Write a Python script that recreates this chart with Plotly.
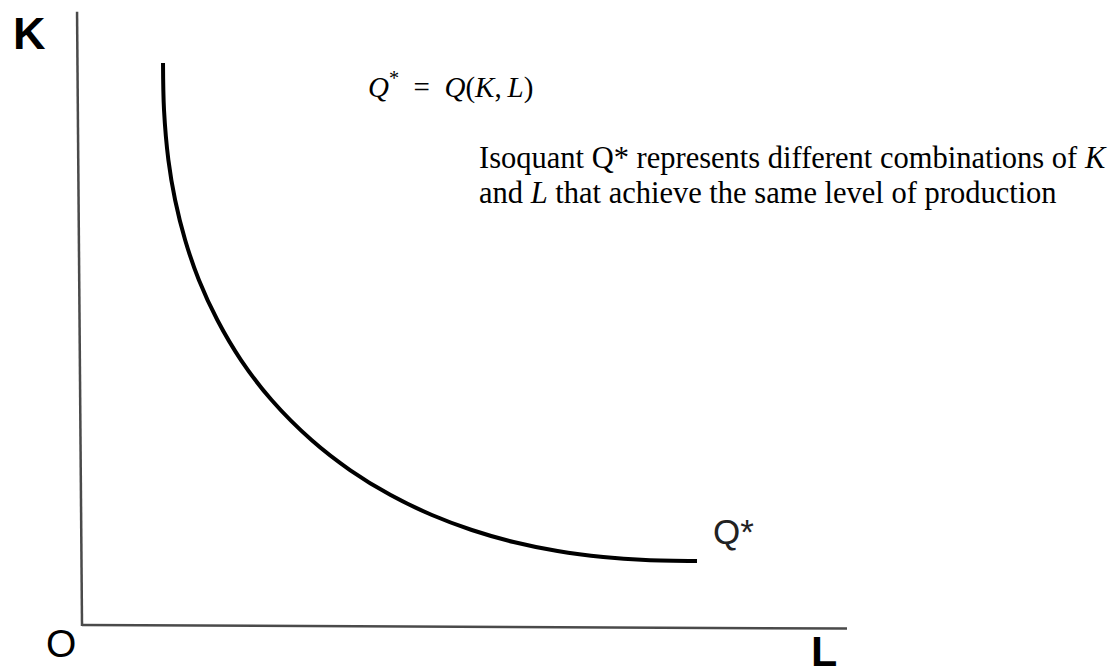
import plotly.graph_objects as go

# Isoquant Q*: combinations of labour (L) and capital (K) giving the same output
labour = [1.059, 1.072, 1.129, 1.217, 1.348, 1.528, 1.769, 2.078, 2.478, 3.000,
          3.503, 4.034, 4.574, 5.095, 5.641, 6.216, 6.813, 7.367, 8.039]
capital = [7.359, 6.745, 6.092, 5.569, 5.046, 4.523, 4.000, 3.477, 2.954, 2.431,
           2.039, 1.712, 1.451, 1.255, 1.098, 0.980, 0.902, 0.863, 0.850]

axis_label_k = "K"
axis_label_l = "L"
origin_label = "O"
curve_label = "Q*"
formula = "<i>Q</i><sup>*</sup>\u2002=\u2002<i>Q</i>(<i>K</i>,\u2009<i>L</i>)"
note_line1 = "Isoquant Q* represents different combinations of <i>K</i>"
note_line2 = "and <i>L</i> that achieve the same level of production"

W, H = 1117, 671
L_RANGE = [-1.072, 13.529]
K_RANGE = [-0.588, 8.183]

fig = go.Figure()

fig.add_trace(go.Scatter(
    x=labour, y=capital, mode="lines",
    line=dict(color="#000000", width=4, shape="spline", smoothing=1.0),
    hoverinfo="skip", showlegend=False,
))

# hand-drawn style axes: K axis and L axis meeting at the origin
fig.add_shape(type="line", xref="x", yref="y", x0=-0.065, y0=8.03, x1=0.0, y1=0.0,
              line=dict(color="#4a4a4a", width=2.5))
fig.add_shape(type="line", xref="x", yref="y", x0=0.0, y0=0.013, x1=10.0, y1=-0.033,
              line=dict(color="#4a4a4a", width=2.5))


def px(xp):
    return xp / W


def py(yp):
    return 1 - yp / H


sans = "Liberation Sans, Arial, sans-serif"
serif = "Liberation Serif, Times New Roman, serif"

annotations = [
    dict(text="<b>" + axis_label_k + "</b>", x=px(29), y=py(33),
         xanchor="center", yanchor="middle",
         font=dict(family=sans, size=45, color="#000")),
    dict(text=origin_label, x=px(61), y=py(643), xanchor="center", yanchor="middle",
         font=dict(family=sans, size=39, color="#000")),
    dict(text="<b>" + axis_label_l + "</b>", x=px(824), y=py(651),
         xanchor="center", yanchor="middle",
         font=dict(family=sans, size=43, color="#000")),
    dict(text=curve_label, x=px(711), y=py(531), xanchor="left", yanchor="middle",
         font=dict(family=sans, size=35, color="#222")),
    dict(text=formula, x=px(366), y=py(86), xanchor="left", yanchor="middle",
         font=dict(family=serif, size=29, color="#000")),
    dict(text=note_line1, x=px(477), y=py(158), xanchor="left", yanchor="middle",
         font=dict(family=serif, size=30.5, color="#000")),
    dict(text=note_line2, x=px(477), y=py(193), xanchor="left", yanchor="middle",
         font=dict(family=serif, size=30.5, color="#000")),
]
for a in annotations:
    a.update(xref="paper", yref="paper", showarrow=False)

fig.update_layout(
    width=W, height=H,
    margin=dict(l=0, r=0, t=0, b=0),
    paper_bgcolor="#ffffff", plot_bgcolor="#ffffff",
    xaxis=dict(range=L_RANGE, visible=False, fixedrange=True),
    yaxis=dict(range=K_RANGE, visible=False, fixedrange=True),
    annotations=annotations,
    showlegend=False,
)

fig.write_html("out.html", config={"displayModeBar": False})
